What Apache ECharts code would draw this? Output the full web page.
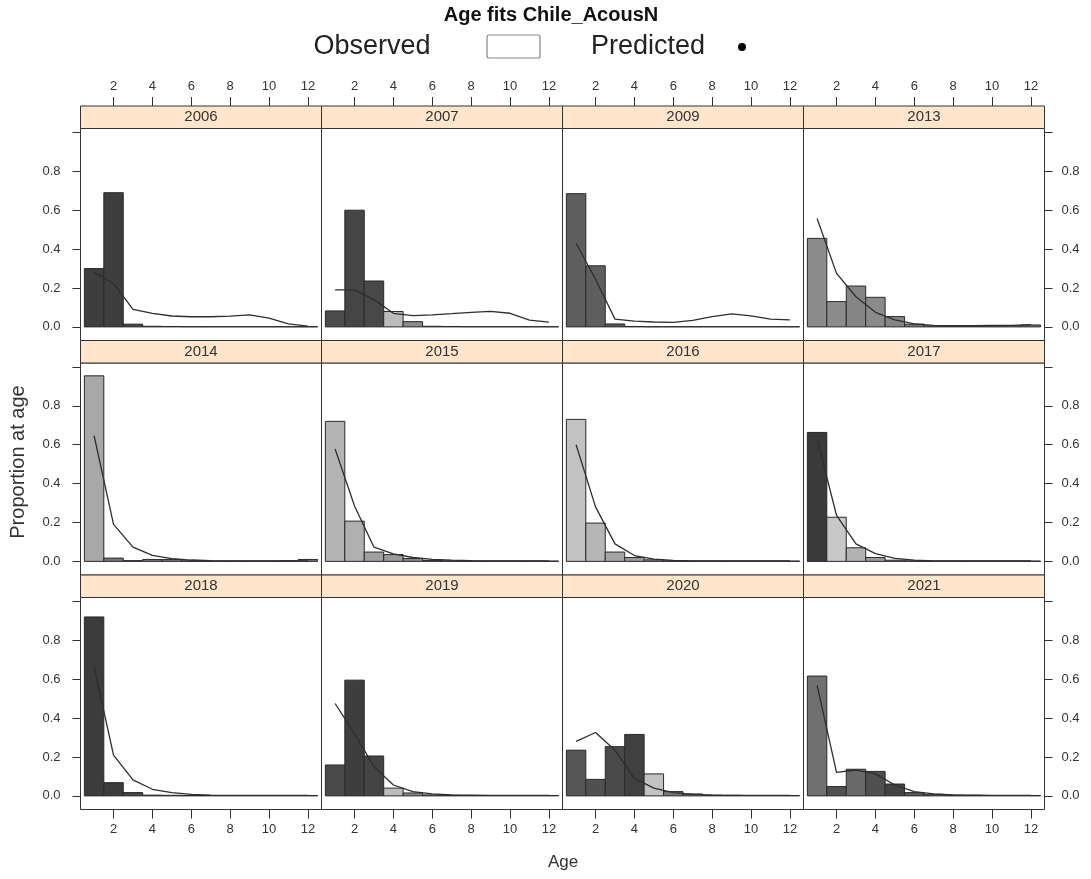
<!DOCTYPE html>
<html><head><meta charset="utf-8">
<script src="https://cdn.jsdelivr.net/npm/echarts@6/dist/echarts.min.js"></script>
<style>html,body{margin:0;padding:0;background:#fff}#c{width:1091px;height:879px}</style>
</head><body><div id="c"></div>
<script>
// ---- data ----
const years = ['2006','2007','2009','2013','2014','2015','2016','2017','2018','2019','2020','2021'];
const ages = [1,2,3,4,5,6,7,8,9,10,11,12];
const xTicks = [2,4,6,8,10,12];
const yTicks = [0,0.2,0.4,0.6,0.8,1.0];
const yLabels = [0,0.2,0.4,0.6,0.8];

const obs2006 = [0.30,0.69,0.014,0.003,0.002,0.001,0.001,0.001,0.001,0.001,0.001,0.001];
const obs2007 = [0.082,0.60,0.236,0.079,0.027,0.003,0.002,0.001,0.001,0.001,0.001,0.001];
const obs2009 = [0.685,0.314,0.015,0.002,0.001,0.001,0.001,0.001,0.001,0.001,0.001,0.001];
const obs2013 = [0.455,0.13,0.21,0.152,0.053,0.014,0.005,0.004,0.004,0.005,0.006,0.01];
const obs2014 = [0.954,0.017,0.004,0.01,0.01,0.003,0.002,0.002,0.002,0.002,0.003,0.01];
const obs2015 = [0.72,0.207,0.048,0.035,0.015,0.005,0.003,0.002,0.002,0.002,0.002,0.002];
const obs2016 = [0.73,0.197,0.048,0.02,0.008,0.003,0.002,0.002,0.002,0.002,0.002,0.002];
const obs2017 = [0.663,0.227,0.07,0.02,0.006,0.003,0.002,0.002,0.002,0.002,0.002,0.002];
const obs2018 = [0.92,0.068,0.017,0.004,0.003,0.002,0.002,0.002,0.002,0.002,0.002,0.002];
const obs2019 = [0.159,0.595,0.205,0.04,0.015,0.005,0.003,0.002,0.002,0.002,0.002,0.002];
const obs2020 = [0.235,0.085,0.253,0.316,0.113,0.022,0.01,0.004,0.003,0.002,0.002,0.002];
const obs2021 = [0.616,0.048,0.137,0.126,0.061,0.017,0.008,0.004,0.003,0.002,0.002,0.002];

const pred2006 = [0.28,0.224,0.09,0.07,0.056,0.052,0.052,0.055,0.062,0.045,0.015,0.004];
const pred2007 = [0.19,0.19,0.14,0.07,0.058,0.062,0.068,0.075,0.08,0.07,0.035,0.024];
const pred2009 = [0.43,0.245,0.04,0.03,0.025,0.023,0.033,0.053,0.067,0.057,0.04,0.036];
const pred2013 = [0.557,0.275,0.155,0.075,0.036,0.015,0.008,0.006,0.006,0.007,0.008,0.012];
const pred2014 = [0.646,0.19,0.073,0.031,0.014,0.007,0.004,0.003,0.003,0.003,0.003,0.003];
const pred2015 = [0.578,0.285,0.073,0.039,0.02,0.01,0.006,0.004,0.003,0.003,0.003,0.003];
const pred2016 = [0.60,0.28,0.09,0.03,0.012,0.005,0.003,0.003,0.003,0.003,0.003,0.003];
const pred2017 = [0.63,0.236,0.09,0.04,0.015,0.006,0.003,0.003,0.003,0.003,0.003,0.003];
const pred2018 = [0.663,0.21,0.082,0.034,0.017,0.008,0.004,0.003,0.003,0.003,0.003,0.003];
const pred2019 = [0.475,0.32,0.15,0.056,0.022,0.01,0.005,0.004,0.003,0.003,0.003,0.003];
const pred2020 = [0.28,0.326,0.235,0.09,0.04,0.017,0.008,0.004,0.003,0.003,0.003,0.003];
const pred2021 = [0.568,0.121,0.133,0.113,0.056,0.022,0.01,0.005,0.004,0.003,0.003,0.003];

// ---- styles (bar shades) ----
const shade2006 = ['#3e3e3e','#3e3e3e','#444','#555','#555','#555','#555','#555','#555','#555','#555','#555'];
const shade2007 = ['#4c4c4c','#454545','#484848','#bcbcbc','#8a8a8a','#666','#666','#666','#666','#666','#666','#666'];
const shade2009 = ['#5e5e5e','#5e5e5e','#555','#555','#555','#555','#555','#555','#555','#555','#555','#555'];
const shade2013 = ['#8c8c8c','#8c8c8c','#858585','#8a8a8a','#858585','#777','#777','#777','#777','#777','#777','#777'];
const shade2014 = ['#a8a8a8','#777','#777','#777','#777','#777','#777','#777','#777','#777','#777','#777'];
const shade2015 = ['#b4b4b4','#b0b0b0','#a0a0a0','#999','#888','#777','#777','#777','#777','#777','#777','#777'];
const shade2016 = ['#c2c2c2','#b6b6b6','#a4a4a4','#999','#888','#777','#777','#777','#777','#777','#777','#777'];
const shade2017 = ['#3a3a3a','#c8c8c8','#b2b2b2','#999','#888','#777','#777','#777','#777','#777','#777','#777'];
const shade2018 = ['#3c3c3c','#3c3c3c','#444','#555','#555','#555','#555','#555','#555','#555','#555','#555'];
const shade2019 = ['#4a4a4a','#3e3e3e','#444','#bcbcbc','#888','#666','#666','#666','#666','#666','#666','#666'];
const shade2020 = ['#555','#505050','#4a4a4a','#404040','#c2c2c2','#777','#777','#777','#777','#777','#777','#777'];
const shade2021 = ['#707070','#505050','#6a6a6a','#505050','#424242','#555','#555','#555','#555','#555','#555','#555'];

const obsList = [obs2006,obs2007,obs2009,obs2013,obs2014,obs2015,obs2016,obs2017,obs2018,obs2019,obs2020,obs2021];
const predList = [pred2006,pred2007,pred2009,pred2013,pred2014,pred2015,pred2016,pred2017,pred2018,pred2019,pred2020,pred2021];
const shadeList = [shade2006,shade2007,shade2009,shade2013,shade2014,shade2015,shade2016,shade2017,shade2018,shade2019,shade2020,shade2021];

// ---- layout ----
const colL = [80.5, 321.5, 562.5, 803.5];
const panelW = 241;
const rowT = [106, 340.5, 575];
const stripH = 22.5;
const bodyH = 212;
const FONT = 'Liberation Sans, Arial, sans-serif';

const grids = [], xAxes = [], yAxes = [], series = [], graphics = [];

years.forEach((yr, i) => {
  const r = Math.floor(i / 4), c = i % 4;
  grids.push({left: colL[c], top: rowT[r] + stripH, width: panelW, height: bodyH,
    show: true, borderColor: '#333', borderWidth: 1, backgroundColor: '#fff',
    containLabel: false, outerBoundsMode: 'none'});
  xAxes.push({type: 'value', gridIndex: i, min: 0.3, max: 12.7,
    show: r !== 1, position: r === 0 ? 'top' : 'bottom', offset: r === 0 ? stripH : 0,
    axisLine: {show: false, onZero: false}, splitLine: {show: false},
    axisTick: {show: true, inside: false, length: 9, customValues: xTicks, lineStyle: {color: '#333', width: 1}},
    axisLabel: {show: true, customValues: xTicks, color: '#333', fontSize: 13, fontFamily: FONT, margin: 13}});
  yAxes.push({type: 'value', gridIndex: i, min: -0.07, max: 1.02,
    show: c === 0 || c === 3, position: c === 3 ? 'right' : 'left',
    axisLine: {show: false, onZero: false}, splitLine: {show: false},
    axisTick: {show: true, inside: false, length: 8, customValues: yTicks, lineStyle: {color: '#333', width: 1}},
    axisLabel: {show: true, customValues: yLabels, formatter: v => v.toFixed(1), color: '#333', fontSize: 13, fontFamily: FONT, margin: c === 3 ? 17 : 20}});
  const shades = shadeList[i];
  series.push({type: 'custom', xAxisIndex: i, yAxisIndex: i,
    data: ages.map((a, k) => [a, obsList[i][k]]),
    renderItem: (params, api) => {
      const a = api.value(0), v = api.value(1);
      const p0 = api.coord([a - 0.5, 0]);
      const p1 = api.coord([a + 0.5, v]);
      return {type: 'rect', shape: {x: p0[0], y: p1[1], width: p1[0] - p0[0], height: p0[1] - p1[1]},
        style: {fill: shades[params.dataIndex], stroke: '#2a2a2a', lineWidth: 1}};
    }, z: 2, animation: false});
  series.push({type: 'line', xAxisIndex: i, yAxisIndex: i,
    data: ages.map((a, k) => [a, predList[i][k]]),
    showSymbol: false, symbol: 'none', lineStyle: {color: '#2e2e2e', width: 1.3}, z: 5, animation: false});
  // strip
  graphics.push({type: 'rect', shape: {x: colL[c], y: rowT[r], width: panelW, height: stripH},
    style: {fill: '#ffe5cc', stroke: '#333', lineWidth: 1}, z: 10});
  graphics.push({type: 'text', x: colL[c] + panelW / 2, y: rowT[r] + stripH / 2,
    style: {text: yr, fill: '#333', font: '15px ' + FONT, textAlign: 'center', textVerticalAlign: 'middle'}, z: 11});
});

// title, legend, axis titles
graphics.push({type: 'text', x: 551, y: 15, style: {text: 'Age fits Chile_AcousN', fill: '#111', font: 'bold 20px ' + FONT, textAlign: 'center', textVerticalAlign: 'middle'}});
graphics.push({type: 'text', x: 372, y: 47, style: {text: 'Observed', fill: '#222', font: '27px ' + FONT, textAlign: 'center', textVerticalAlign: 'middle'}});
graphics.push({type: 'rect', shape: {x: 487, y: 35, width: 53, height: 23, r: 2}, style: {fill: '#fff', stroke: '#888', lineWidth: 1.2}});
graphics.push({type: 'text', x: 648, y: 47, style: {text: 'Predicted', fill: '#222', font: '27px ' + FONT, textAlign: 'center', textVerticalAlign: 'middle'}});
graphics.push({type: 'circle', shape: {cx: 742, cy: 47, r: 4}, style: {fill: '#000'}});
graphics.push({type: 'text', x: 563, y: 862, style: {text: 'Age', fill: '#333', font: '17px ' + FONT, textAlign: 'center', textVerticalAlign: 'middle'}});
graphics.push({type: 'text', x: 18, y: 462, rotation: Math.PI / 2, style: {text: 'Proportion at age', fill: '#333', font: '20px ' + FONT, textAlign: 'center', textVerticalAlign: 'middle'}});

const chart = echarts.init(document.getElementById('c'), null, {renderer: 'canvas'});
chart.setOption({
  backgroundColor: '#fff', animation: false,
  grid: grids, xAxis: xAxes, yAxis: yAxes, series: series, graphic: graphics
});
</script></body></html>
